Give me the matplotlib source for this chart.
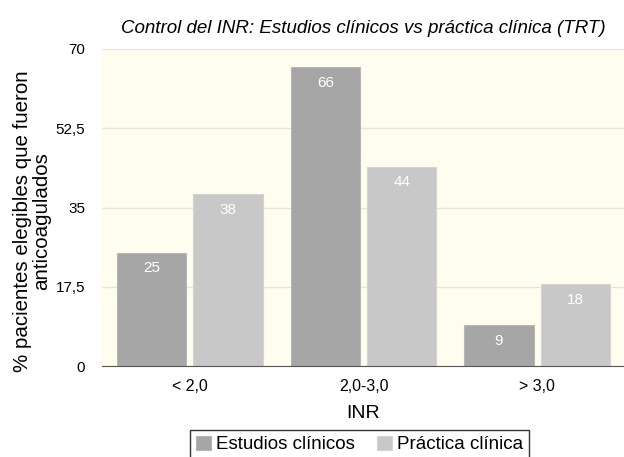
import numpy as np
import matplotlib
matplotlib.use("Agg")
import matplotlib.pyplot as plt

plt.rcParams['font.family'] = ['Liberation Sans', 'DejaVu Sans']

categories = ["< 2,0", "2,0-3,0", "> 3,0"]
estudios = [25, 66, 9]
practica = [38, 44, 18]
series_names = ["Estudios clínicos", "Práctica clínica"]
yticks = [0, 17.5, 35, 52.5, 70]
ytick_labels = ["0", "17,5", "35", "52,5", "70"]

fig = plt.figure(figsize=(6.24, 4.57), dpi=100)
ax = fig.add_axes([0.1635, 0.1991, 0.8365, 0.6937])
ax.set_facecolor("#fefdf0")

x = np.arange(len(categories))
w = 0.40
off = 0.22
b1 = ax.bar(x - off, estudios, w, color="#a6a6a6", edgecolor="#b6b6b6", linewidth=0.8,
            label=series_names[0], zorder=3)
b2 = ax.bar(x + off, practica, w, color="#c8c8c8", edgecolor="#d4d4d4", linewidth=0.8,
            label=series_names[1], zorder=3)

for bars, vals in [(b1, estudios), (b2, practica)]:
    for r, v in zip(bars, vals):
        ax.text(r.get_x() + r.get_width() / 2, v - 1.9, str(v), ha="center", va="top",
                color="white", fontsize=11, zorder=4)

ax.set_xlim(-0.506, 2.5)
ax.set_ylim(0, 70)
ax.set_yticks(yticks)
ax.set_yticklabels(ytick_labels, fontsize=11)
ax.set_xticks(x)
ax.set_xticklabels(categories, fontsize=11.5)
ax.tick_params(axis="y", length=0, pad=12)
ax.tick_params(axis="x", length=0, pad=9)
ax.grid(axis="y", color="#e8e5dc", linewidth=1, zorder=0)
for s in ["top", "right", "left"]:
    ax.spines[s].set_visible(False)
ax.spines["bottom"].set_color("#555555")
ax.spines["bottom"].set_zorder(5)

ax.set_xlabel("INR", fontsize=14, labelpad=8)
ax.set_ylabel("% pacientes elegibles que fueron\nanticoagulados", fontsize=14.8,
              linespacing=1.0)
ax.yaxis.set_label_coords(-0.097, 0.457)
fig.text(0.583, 0.938, "Control del INR: Estudios clínicos vs práctica clínica (TRT)",
         ha="center", va="center", fontsize=13.5, style="italic")

leg = fig.legend(handles=[b1, b2], loc="center", bbox_to_anchor=(0.576, 0.0275), ncol=2,
                 fontsize=13.5, frameon=True, fancybox=False, edgecolor="black",
                 handlelength=0.8, handleheight=0.8, handletextpad=0.3,
                 columnspacing=1.15, borderpad=0.3, borderaxespad=0)
leg.get_frame().set_linewidth(1)

fig.savefig("out.png", dpi=100)
